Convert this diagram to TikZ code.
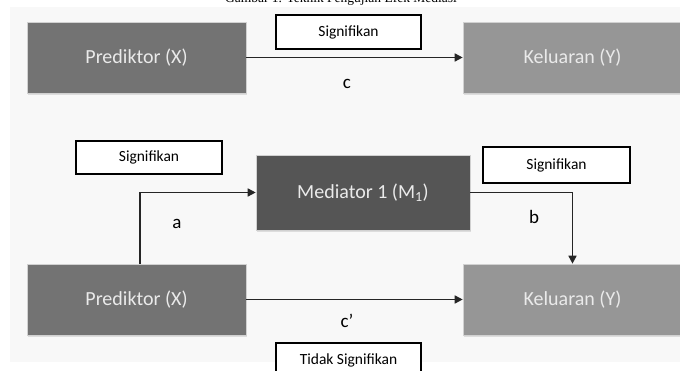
\documentclass[tikz,border=0pt]{standalone}
\usepackage{fontspec}
\setmainfont{Carlito}
\newfontfamily\titlefont{Liberation Serif}
\usetikzlibrary{arrows.meta,shadows}

\definecolor{panelbg}{HTML}{F8F8F8}
\definecolor{predfill}{HTML}{737373}
\definecolor{outfill}{HTML}{969696}
\definecolor{medfill}{HTML}{555555}
\definecolor{boxtext}{HTML}{EAEAEA}

\tikzset{
  varbox/.style={draw=black!18, line width=0.6pt, minimum width=219pt,
    minimum height=71pt, inner sep=0pt, text=boxtext,
    font=\fontsize{20}{24}\selectfont,
    drop shadow={shadow xshift=0.8pt, shadow yshift=-1.6pt, opacity=0.22}},
  tagbox/.style={draw=black, fill=white, line width=1.3pt, minimum width=145pt,
    minimum height=34pt, inner sep=0pt, font=\fontsize{15.5}{18}\selectfont},
  pathlabel/.style={inner sep=0pt, font=\fontsize{19}{22}\selectfont},
  arr/.style={draw=black!85, line width=1.6pt,
    -{Triangle[length=8pt,width=8pt]}}
}

\begin{document}
\begin{tikzpicture}[x=1pt,y=1pt]
  \useasboundingbox (0,0) rectangle (680,371);
  \clip (0,0) rectangle (680,371);

  % page caption, partly cut off at the top edge
  \node[anchor=base, inner sep=0pt, font=\titlefont\fontsize{13.5}{16}\selectfont]
    (caption) at (341,368) {Gambar 1. Teknik Pengujian Efek Mediasi};

  % light panel behind the diagram
  \fill[panelbg] (10,9) rectangle (700,364);

  % total effect (upper row)
  \node[varbox, fill=predfill] (x1) at (136.5,313.5) {Prediktor (X)};
  \node[varbox, fill=outfill]  (y1) at (572.5,313.5) {Keluaran (Y)};
  \node[tagbox] (sig1) at (348.5,339) {Signifikan};
  \draw[arr] (x1.east) -- (y1.west);
  \node[pathlabel] (lc) at (347,287) {c};

  % mediated model (lower rows)
  \node[varbox, fill=medfill, minimum width=214pt, minimum height=75pt]
    (m) at (363,178.5) {Mediator 1 (M\textsubscript{1})};
  \node[varbox, fill=predfill] (x2) at (136.5,71.5) {Prediktor (X)};
  \node[varbox, fill=outfill]  (y2) at (572.5,71.5) {Keluaran (Y)};

  \node[tagbox, minimum width=146pt, minimum height=33pt] (siga) at (149,213.5) {Signifikan};
  \node[tagbox, minimum width=147pt, minimum height=36pt] (sigb) at (556.5,206) {Signifikan};
  \node[tagbox] (sigc) at (348.5,11) {Tidak Signifikan};

  \draw[arr] ([xshift=3.5pt]x2.north) |- (m.west);
  \draw[arr] (m.east) -| (y2.north);
  \draw[arr] (x2.east) -- (y2.west);

  \node[pathlabel] (la) at (177,147) {a};
  \node[pathlabel] (lb) at (534,154) {b};
  \node[pathlabel] (lcp) at (347,50) {c’};
\end{tikzpicture}
\end{document}
